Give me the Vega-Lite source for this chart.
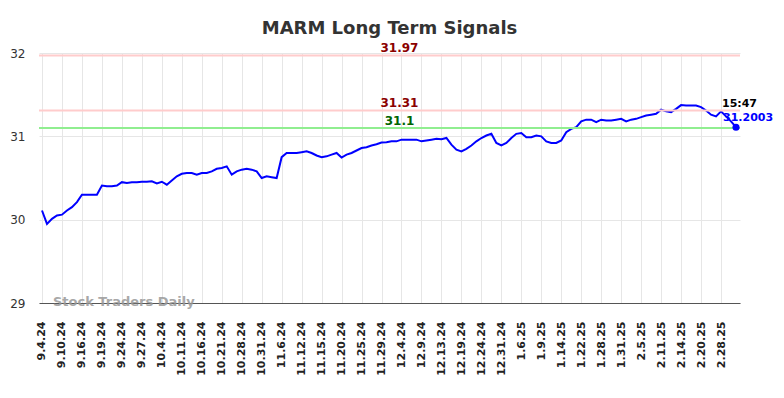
{
  "$schema": "https://vega.github.io/schema/vega-lite/v6.json",
  "width": 701,
  "height": 250,
  "autosize": {"type": "none"},
  "padding": {"left": 39, "top": 53, "right": 44, "bottom": 95},
  "background": "white",
  "config": {
    "view": {"stroke": null},
    "font": "DejaVu Sans"
  },
  "title": {
    "text": "MARM Long Term Signals",
    "fontSize": 18,
    "fontWeight": "bold",
    "color": "#333333",
    "font": "DejaVu Sans",
    "anchor": "middle",
    "baseline": "alphabetic",
    "offset": 20,
    "dy": 30
  },
  "datasets": {
    "prices": [
      {"i":0,"v":30.11},{"i":1,"v":29.95},{"i":2,"v":30.01},{"i":3,"v":30.05},{"i":4,"v":30.06},
      {"i":5,"v":30.11},{"i":6,"v":30.15},{"i":7,"v":30.21},{"i":8,"v":30.30},{"i":9,"v":30.30},
      {"i":10,"v":30.30},{"i":11,"v":30.30},{"i":12,"v":30.41},{"i":13,"v":30.40},{"i":14,"v":30.40},
      {"i":15,"v":30.41},{"i":16,"v":30.45},{"i":17,"v":30.44},{"i":18,"v":30.45},{"i":19,"v":30.45},
      {"i":20,"v":30.455},{"i":21,"v":30.455},{"i":22,"v":30.46},{"i":23,"v":30.435},{"i":24,"v":30.455},
      {"i":25,"v":30.42},{"i":26,"v":30.47},{"i":27,"v":30.52},{"i":28,"v":30.55},{"i":29,"v":30.56},
      {"i":30,"v":30.56},{"i":31,"v":30.54},{"i":32,"v":30.56},{"i":33,"v":30.56},{"i":34,"v":30.58},
      {"i":35,"v":30.61},{"i":36,"v":30.62},{"i":37,"v":30.64},{"i":38,"v":30.54},{"i":39,"v":30.58},
      {"i":40,"v":30.60},{"i":41,"v":30.61},{"i":42,"v":30.60},{"i":43,"v":30.58},{"i":44,"v":30.50},
      {"i":45,"v":30.52},{"i":46,"v":30.51},{"i":47,"v":30.50},{"i":48,"v":30.75},{"i":49,"v":30.80},
      {"i":50,"v":30.80},{"i":51,"v":30.80},{"i":52,"v":30.81},{"i":53,"v":30.82},{"i":54,"v":30.80},
      {"i":55,"v":30.77},{"i":56,"v":30.75},{"i":57,"v":30.76},{"i":58,"v":30.78},{"i":59,"v":30.80},
      {"i":60,"v":30.745},{"i":61,"v":30.78},{"i":62,"v":30.80},{"i":63,"v":30.83},{"i":64,"v":30.86},
      {"i":65,"v":30.87},{"i":66,"v":30.89},{"i":67,"v":30.905},{"i":68,"v":30.925},{"i":69,"v":30.93},
      {"i":70,"v":30.94},{"i":71,"v":30.94},{"i":72,"v":30.96},{"i":73,"v":30.96},{"i":74,"v":30.96},
      {"i":75,"v":30.96},{"i":76,"v":30.94},{"i":77,"v":30.95},{"i":78,"v":30.96},{"i":79,"v":30.97},
      {"i":80,"v":30.965},{"i":81,"v":30.98},{"i":82,"v":30.90},{"i":83,"v":30.84},{"i":84,"v":30.82},
      {"i":85,"v":30.85},{"i":86,"v":30.89},{"i":87,"v":30.94},{"i":88,"v":30.98},{"i":89,"v":31.01},
      {"i":90,"v":31.03},{"i":91,"v":30.92},{"i":92,"v":30.89},{"i":93,"v":30.92},{"i":94,"v":30.98},
      {"i":95,"v":31.03},{"i":96,"v":31.04},{"i":97,"v":30.99},{"i":98,"v":30.99},{"i":99,"v":31.01},
      {"i":100,"v":31.00},{"i":101,"v":30.94},{"i":102,"v":30.92},{"i":103,"v":30.92},{"i":104,"v":30.95},
      {"i":105,"v":31.05},{"i":106,"v":31.09},{"i":107,"v":31.11},{"i":108,"v":31.18},{"i":109,"v":31.20},
      {"i":110,"v":31.20},{"i":111,"v":31.17},{"i":112,"v":31.20},{"i":113,"v":31.19},{"i":114,"v":31.19},
      {"i":115,"v":31.20},{"i":116,"v":31.21},{"i":117,"v":31.18},{"i":118,"v":31.20},{"i":119,"v":31.21},
      {"i":120,"v":31.23},{"i":121,"v":31.25},{"i":122,"v":31.26},{"i":123,"v":31.27},{"i":124,"v":31.32},
      {"i":125,"v":31.30},{"i":126,"v":31.29},{"i":127,"v":31.33},{"i":128,"v":31.375},{"i":129,"v":31.37},
      {"i":130,"v":31.37},{"i":131,"v":31.37},{"i":132,"v":31.35},{"i":133,"v":31.31},{"i":134,"v":31.26},
      {"i":135,"v":31.24},{"i":136,"v":31.30},{"i":137,"v":31.24},{"i":138,"v":31.18},{"i":139,"v":31.11}
    ],
    "levels": [
      {"v": 31.97, "kind": "upper"},
      {"v": 31.31, "kind": "upper"},
      {"v": 31.1, "kind": "lower"}
    ],
    "last": [
      {"i": 139, "v": 31.11, "time": "15:47", "price": "31.2003"}
    ]
  },
  "layer": [
    {
      "data": {"name": "prices"},
      "mark": {"type": "line", "color": "#0000ff", "strokeWidth": 2},
      "encoding": {
        "x": {
          "field": "i",
          "type": "quantitative",
          "scale": {"domain": [-0.6, 139.8], "nice": false, "zero": false},
          "axis": {
            "title": null,
            "values": [0,4,8,12,16,20,24,28,32,36,40,44,48,52,56,60,64,68,72,76,80,84,88,92,96,100,104,108,112,116,120,124,128,132,136],
            "tickCount": 200,
            "labelExpr": "['9.4.24','9.10.24','9.16.24','9.19.24','9.24.24','9.27.24','10.4.24','10.11.24','10.16.24','10.21.24','10.28.24','10.31.24','11.6.24','11.12.24','11.15.24','11.20.24','11.25.24','11.29.24','12.4.24','12.9.24','12.13.24','12.19.24','12.24.24','12.31.24','1.6.25','1.9.25','1.14.25','1.22.25','1.28.25','1.31.25','2.5.25','2.11.25','2.14.25','2.20.25','2.28.25'][round(datum.value / 4)]",
            "labelAngle": -90,
            "labelAlign": "right",
            "labelBaseline": "middle",
            "labelFont": "DejaVu Sans",
            "labelFontSize": 11,
            "labelFontWeight": "bold",
            "labelColor": "#222222",
            "labelPadding": 18,
            "labelOverlap": false,
            "labelFlush": false,
            "ticks": false,
            "tickSize": 0,
            "domain": true,
            "domainColor": "#555555",
            "domainWidth": 1,
            "grid": true,
            "gridColor": "#e6e6e6",
            "gridWidth": 1
          }
        },
        "y": {
          "field": "v",
          "type": "quantitative",
          "scale": {"domain": [29, 32], "nice": false, "zero": false},
          "axis": {
            "title": null,
            "values": [29, 30, 31, 32],
            "tickCount": 10,
            "format": "d",
            "labelFont": "DejaVu Sans",
            "labelFontSize": 12,
            "labelColor": "#333333",
            "labelPadding": 14,
            "ticks": false,
            "tickSize": 0,
            "domain": false,
            "grid": true,
            "gridColor": "#e6e6e6",
            "gridWidth": 1
          }
        }
      }
    },
    {
      "data": {"name": "levels"},
      "mark": {"type": "rule", "strokeWidth": 2},
      "encoding": {
        "y": {"field": "v", "type": "quantitative"},
        "stroke": {
          "field": "kind",
          "type": "nominal",
          "scale": {"domain": ["upper", "lower"], "range": ["#ffcccc", "#90ee90"]},
          "legend": null
        }
      }
    },
    {
      "data": {"name": "levels"},
      "mark": {"type": "text", "font": "DejaVu Sans", "fontSize": 12, "fontWeight": "bold", "align": "center", "baseline": "alphabetic", "dy": -3.5},
      "encoding": {
        "x": {"datum": 71.6, "type": "quantitative"},
        "y": {"field": "v", "type": "quantitative"},
        "text": {"field": "v", "type": "nominal"},
        "fill": {
          "field": "kind",
          "type": "nominal",
          "scale": {"domain": ["upper", "lower"], "range": ["#8b0000", "#006400"]},
          "legend": null
        }
      }
    },
    {
      "data": {"name": "last"},
      "mark": {"type": "circle", "size": 50, "color": "#0000ff", "opacity": 1},
      "encoding": {
        "x": {"field": "i", "type": "quantitative"},
        "y": {"field": "v", "type": "quantitative"}
      }
    },
    {
      "data": {"name": "last"},
      "mark": {"type": "text", "font": "DejaVu Sans", "fontSize": 11, "fontWeight": "bold", "align": "left", "baseline": "alphabetic", "dx": -14, "dy": -20, "color": "#000000"},
      "encoding": {
        "x": {"field": "i", "type": "quantitative"},
        "y": {"field": "v", "type": "quantitative"},
        "text": {"field": "time", "type": "nominal"}
      }
    },
    {
      "data": {"name": "last"},
      "mark": {"type": "text", "font": "DejaVu Sans", "fontSize": 11, "fontWeight": "bold", "align": "left", "baseline": "alphabetic", "dx": -13, "dy": -6, "color": "#0000ff"},
      "encoding": {
        "x": {"field": "i", "type": "quantitative"},
        "y": {"field": "v", "type": "quantitative"},
        "text": {"field": "price", "type": "nominal"}
      }
    },
    {
      "data": {"values": [{"label": "Stock Traders Daily"}]},
      "mark": {"type": "text", "font": "DejaVu Sans", "fontSize": 13, "fontWeight": "bold", "align": "left", "baseline": "alphabetic", "dy": 3, "color": "#999999", "opacity": 0.85},
      "encoding": {
        "x": {"datum": 2.2, "type": "quantitative"},
        "y": {"datum": 29, "type": "quantitative"},
        "text": {"field": "label", "type": "nominal"}
      }
    }
  ]
}
